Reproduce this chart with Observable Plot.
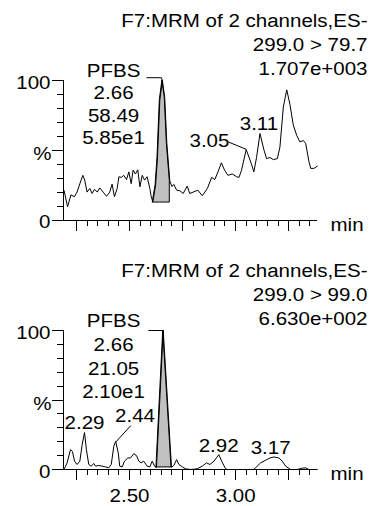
<!DOCTYPE html>
<html>
<head>
<meta charset="utf-8">
<script src="https://cdn.jsdelivr.net/npm/d3@7"></script>
<script src="https://cdn.jsdelivr.net/npm/@observablehq/plot@0.6"></script>
<style>
  html, body { margin: 0; padding: 0; background: #fff; }
  #chart svg { display: block; }
</style>
</head>
<body>
<div id="chart"></div>
<script>
// ---------- shared axis data ----------
const xDomain = [2.189, 3.386];
const xMajorTicks = [2.25, 2.5, 2.75, 3.0, 3.25];
const xLabeledTicks = [2.5, 3.0];
const xMinorTicks = [2.30, 2.35, 2.40, 2.45, 2.55, 2.60, 2.65, 2.70, 2.80, 2.85, 2.90, 2.95, 3.05, 3.10, 3.15, 3.20, 3.30, 3.35];
const yMajorTicks = [0, 50, 100];
const yMinorTicks = [10, 20, 30, 40, 60, 70, 80, 90];
const yEndLabels = ["0", "100"];
const yEndLabelValues = [0, 100];
const yMidLabel = ["%"];
const yMidLabelValue = [50];
const xUnit = "min";

// ---------- top panel: 299.0 > 79.7 ----------
const topTitle = "F7:MRM of 2 channels,ES-\n299.0 > 79.7\n1.707e+003";
const topTime = [2.192, 2.208, 2.224, 2.240, 2.253, 2.266, 2.280, 2.289, 2.300, 2.313, 2.324, 2.335, 2.348, 2.360, 2.376, 2.392, 2.407, 2.418, 2.429, 2.442, 2.450, 2.461, 2.473, 2.486, 2.497, 2.508, 2.517, 2.528, 2.539, 2.549, 2.560, 2.571, 2.583, 2.596, 2.602, 2.610, 2.623, 2.632, 2.643, 2.655, 2.666, 2.676, 2.690, 2.700, 2.709, 2.722, 2.737, 2.753, 2.772, 2.784, 2.800, 2.822, 2.843, 2.867, 2.887, 2.902, 2.917, 2.933, 2.948, 2.964, 2.984, 3.005, 3.016, 3.028, 3.050, 3.074, 3.086, 3.099, 3.115, 3.134, 3.146, 3.162, 3.178, 3.197, 3.209, 3.225, 3.241, 3.256, 3.272, 3.288, 3.303, 3.319, 3.330, 3.346, 3.354, 3.369, 3.385];
const topIntensity = [21, 9.5, 18, 16.7, 20, 26, 32, 28.6, 20, 22.6, 19, 22, 20, 23, 20, 17, 20, 25.7, 16.7, 22.6, 31, 30.5, 32, 29, 34.5, 26, 35.7, 33, 36, 23.8, 32, 28.6, 31, 22.6, 17, 13, 25, 45, 86, 100, 88, 55, 28, 24, 25.5, 21.4, 21, 19, 24.3, 19, 20, 21.4, 17.4, 22.6, 30.5, 29, 34.5, 41, 35.7, 32, 33, 31, 30.5, 35.7, 50.5, 40.5, 34.5, 45, 62, 50, 44, 44.8, 43.3, 44, 52.4, 81, 93.3, 83, 68, 60.7, 56, 57, 55, 41.7, 37, 37, 38.6];
const topPeakTime = [2.610, 2.623, 2.632, 2.643, 2.655, 2.666, 2.676, 2.690];
const topPeakIntensity = [13, 25, 45, 86, 100, 88, 55, 28];
const topPeakBase = 12.5;
const topPeakLabel = "PFBS\n2.66\n58.49\n5.85e1";
const topLabels = ["3.05", "3.11"];

// ---------- bottom panel: 299.0 > 99.0 ----------
const botTitle = "F7:MRM of 2 channels,ES-\n299.0 > 99.0\n6.630e+002";
const botTime = [2.193, 2.206, 2.222, 2.231, 2.241, 2.253, 2.266, 2.277, 2.288, 2.297, 2.308, 2.319, 2.332, 2.340, 2.355, 2.371, 2.387, 2.402, 2.414, 2.426, 2.435, 2.447, 2.454, 2.466, 2.476, 2.492, 2.505, 2.520, 2.533, 2.544, 2.555, 2.567, 2.583, 2.596, 2.607, 2.618, 2.627, 2.659, 2.698, 2.709, 2.722, 2.733, 2.749, 2.764, 2.788, 2.819, 2.843, 2.863, 2.879, 2.898, 2.921, 2.937, 2.953, 2.961, 2.991, 3.085, 3.094, 3.118, 3.142, 3.162, 3.181, 3.204, 3.220, 3.236, 3.259, 3.291, 3.315, 3.330, 3.346, 3.385];
const botIntensity = [0.5, 4.8, 14.3, 13, 6, 3.6, 6, 17.9, 26.6, 14.3, 3.6, 2.4, 4.3, 2.4, 2.9, 2.4, 1.9, 1.2, 3.6, 16.7, 20.2, 12, 2.4, 1.9, 6, 8.3, 8.3, 11.4, 10, 6, 4.8, 6, 2.4, 1.9, 6, 2.4, 1.5, 100, 1.5, 2.9, 7.1, 3.6, 1.9, 0.5, 0, 0.5, 2.4, 4.8, 3.6, 6, 10.7, 5.2, 0.5, 0, 0, 0, 1.2, 4.8, 6.7, 8.3, 9, 8.3, 6, 2.4, 0, 0, 1, 1.2, 0, 0];
const botPeakTime = [2.627, 2.659, 2.698];
const botPeakIntensity = [1.5, 100, 1.5];
const botPeakBase = 1.5;
const botPeakLabel = "PFBS\n2.66\n21.05\n2.10e1";
const botLabels = ["2.29", "2.44", "2.92", "3.17"];

// ---------- annotation placement ----------
const topAnno = {
  peakLabel: {t: 2.425, v: 54.8, lineHeight: 1.16},
  leader: [[2.582, 102], [2.650, 102], [2.655, 100]],
  labels: [{t: 2.971, v: 52, anchor: "end"}, {t: 3.11, v: 64.2, anchor: "middle"}],
  leaders: [[[2.968, 55.8], [3.048, 50.8]]]
};
const botAnno = {
  peakLabel: {t: 2.425, v: 51.1, lineHeight: 1.26},
  leader: [[2.591, 100], [2.659, 100]],
  labels: [{t: 2.288, v: 29.3, anchor: "middle"}, {t: 2.526, v: 34, anchor: "middle"}, {t: 2.92, v: 12.4, anchor: "middle"}, {t: 3.165, v: 11.3, anchor: "middle"}],
  leaders: [[[2.505, 31.4], [2.437, 20]]]
};

const zip = (a, b) => a.map((t, i) => ({t, v: b[i]}));
const FONT = "'Liberation Sans', Arial, Helvetica, sans-serif";
const W = 371, ML = 63, MR = 54, MT = 80;
const MAJOR = 11, MINOR = 6;
const AXIS = {stroke: "black", strokeWidth: 1, shapeRendering: "crispEdges"};

function panel({height, marginBottom, title, time, intensity, peakTime, peakIntensity, peakBase, peakLabel, labels, anno, showXLabels}) {
  const frameW = W - ML - MR;
  const frameH = height - MT - marginBottom;
  const trace = zip(time, intensity);
  const peak = zip(peakTime, peakIntensity);
  const lab = labels.map((s, i) => ({s, ...anno.labels[i]}));
  const marks = [
    Plot.areaY(peak, {x: "t", y1: peakBase, y2: "v", fill: "#c0c0c0", stroke: "black", strokeWidth: 1}),
    Plot.line(trace, {x: "t", y: "v", stroke: "black", strokeWidth: 1}),
    Plot.ruleY([0], AXIS),
    Plot.ruleX([xDomain[0]], AXIS),
    Plot.tickX(xMajorTicks, {x: (d) => d, insetTop: frameH, insetBottom: -MAJOR, ...AXIS}),
    Plot.tickX(xMinorTicks, {x: (d) => d, insetTop: frameH, insetBottom: -MINOR, ...AXIS}),
    Plot.tickY(yMajorTicks, {y: (d) => d, insetLeft: -MAJOR, insetRight: frameW, ...AXIS}),
    Plot.tickY(yMinorTicks, {y: (d) => d, insetLeft: -MINOR, insetRight: frameW, ...AXIS}),
    Plot.text(yEndLabels, {y: (d, i) => yEndLabelValues[i], text: (d) => d, frameAnchor: "left", textAnchor: "end", dx: -13, dy: 2, fill: "black"}),
    Plot.text(yMidLabel, {y: (d, i) => yMidLabelValue[i], text: (d) => d, frameAnchor: "left", textAnchor: "end", dx: -12, dy: 4, fill: "black"}),
    Plot.text([xUnit], {frameAnchor: "bottom-right", text: (d) => d, textAnchor: "start", lineAnchor: "bottom", dx: 13, dy: 10.5, fill: "black"}),
    Plot.text([title], {frameAnchor: "top-right", text: (d) => d, textAnchor: "end", lineAnchor: "bottom", lineHeight: 1.263, dx: 50, dy: -6, fill: "black"}),
    Plot.text([peakLabel], {x: () => anno.peakLabel.t, y: () => anno.peakLabel.v, text: (d) => d, textAnchor: "middle", lineAnchor: "bottom", lineHeight: anno.peakLabel.lineHeight, fill: "black"}),
    Plot.line(anno.leader, {x: (d) => d[0], y: (d) => d[1], stroke: "black", strokeWidth: 1}),
    ...anno.leaders.map((L) => Plot.line(L, {x: (d) => d[0], y: (d) => d[1], stroke: "black", strokeWidth: 1})),
    ...lab.map((d) => Plot.text([d], {x: "t", y: "v", text: "s", textAnchor: d.anchor, lineAnchor: "bottom", fill: "black"}))
  ];
  if (showXLabels) {
    marks.push(Plot.text(xLabeledTicks, {x: (d) => d, text: (d) => d3.format(".2f")(d), frameAnchor: "bottom", lineAnchor: "top", dy: 19, fill: "black"}));
  }
  const svg = Plot.plot({
    width: W,
    height,
    marginLeft: ML,
    marginRight: MR,
    marginTop: MT,
    marginBottom,
    x: {domain: xDomain, axis: null},
    y: {domain: [0, 100], axis: null},
    style: {fontFamily: FONT, fontSize: "19px", color: "black", background: "white", overflow: "visible"},
    marks
  });
  svg.querySelectorAll("text").forEach((t) => {
    const tr = t.getAttribute("transform");
    if (tr) t.setAttribute("transform", tr + " scale(1.08,1)");
  });
  return svg;
}

const root = document.getElementById("chart");
root.appendChild(panel({
  height: 250, marginBottom: 30.5, title: topTitle,
  time: topTime, intensity: topIntensity,
  peakTime: topPeakTime, peakIntensity: topPeakIntensity, peakBase: topPeakBase,
  peakLabel: topPeakLabel, labels: topLabels, anno: topAnno, showXLabels: false
}));
root.appendChild(panel({
  height: 256, marginBottom: 37, title: botTitle,
  time: botTime, intensity: botIntensity,
  peakTime: botPeakTime, peakIntensity: botPeakIntensity, peakBase: botPeakBase,
  peakLabel: botPeakLabel, labels: botLabels, anno: botAnno, showXLabels: true
}));
</script>
</body>
</html>
